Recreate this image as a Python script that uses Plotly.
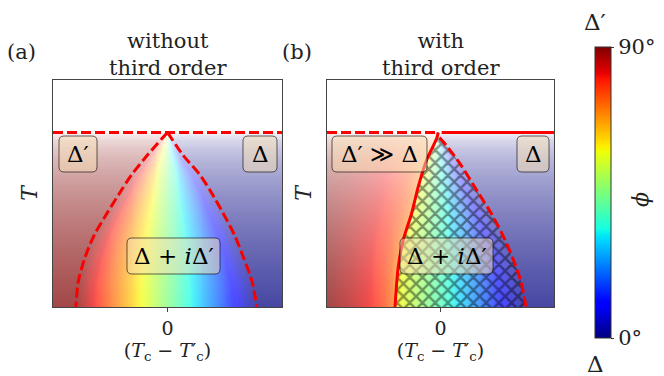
import numpy as np
import plotly.graph_objects as go

W, H = 664, 376
OFF = 8  # page body margin of the html page

# critical temperature (both panels)
T_c = 1.0

# (a) without third order: phase boundaries
a_left_x = [0.0, -0.175, -0.315, -0.412, -0.527, -0.640, -0.722, -0.78, -0.80]
a_left_T = [1.0, 0.870, 0.756, 0.659, 0.538, 0.412, 0.281, 0.143, 0.0]
a_right_x = [0.0, 0.135, 0.284, 0.38, 0.485, 0.585, 0.665, 0.74, 0.78]
a_right_T = [1.0, 0.870, 0.756, 0.659, 0.538, 0.412, 0.281, 0.143, 0.0]

# (b) with third order: phase boundaries
b_left_x = [-0.02, -0.033, -0.122, -0.196, -0.254, -0.328, -0.372, -0.401]
b_left_T = [1.0, 0.966, 0.842, 0.689, 0.537, 0.384, 0.231, 0.0]
b_right_x = [-0.01, 0.048, 0.18, 0.327, 0.445, 0.548, 0.636, 0.709, 0.753]
b_right_T = [0.97, 0.928, 0.813, 0.66, 0.538, 0.412, 0.281, 0.145, 0.0]

x_ticks = [0]
x_ticklabels = ['0']
phi_ticks = [0, 90]
phi_ticklabels = ['0°', '90°']

SERIF = 'DejaVu Serif, Liberation Serif, serif'


def jet(v):
    r = np.interp(v, [0, 0.35, 0.66, 0.89, 1], [0, 0, 1, 1, 0.5])
    g = np.interp(v, [0, 0.125, 0.375, 0.64, 0.91, 1], [0, 0, 1, 1, 0, 0])
    b = np.interp(v, [0, 0.11, 0.34, 0.65, 1], [0.5, 1, 1, 0, 0])
    return np.stack([r, g, b], axis=-1)


jet_stops = [0, 0.11, 0.125, 0.34, 0.35, 0.375, 0.5, 0.64, 0.65, 0.66, 0.89, 0.91, 1]
jet_scale = [[s, 'rgb(%d,%d,%d)' % tuple((jet(np.array(s)) * 255).round())] for s in jet_stops]

# grid for the background phase map
nx, ny = 240, 260
xs = np.linspace(-1, 1, nx)
Ts = np.linspace(0, 1.3, ny)
X, TT = np.meshgrid(xs, Ts)
alpha = 0.72 * np.sqrt(np.clip(1 - TT / T_c, 0, 1))


def to_rgb(f):
    c = jet(np.clip(f, 0, 1))
    a = alpha[..., None]
    return (255 * (1 - a) + 255 * a * c).round().astype(np.uint8)


# panel a: fan from the tip
xl = np.interp(TT, a_left_T[::-1], a_left_x[::-1])
xr = np.interp(TT, a_right_T[::-1], a_right_x[::-1])
fa = np.where(X < 0,
              0.5 + 0.5 * np.clip(X / np.minimum(xl, -1e-3), 0, 1),
              0.5 - 0.5 * np.clip(X / np.maximum(xr, 1e-3), 0, 1))
img_a = to_rgb(fa)

# panel b
xl = np.interp(TT, b_left_T[::-1], b_left_x[::-1])
xr = np.interp(TT, b_right_T[::-1], b_right_x[::-1])
s = (X - xl) / np.maximum(xr - xl, 1e-3)
fb = np.where(X < xl, 0.7 + 0.3 * np.clip((xl - X) / (xl + 1), 0, 1) ** 0.4,
              np.where(X > xr, 0.0, 0.66 * (1 - s)))
img_b = to_rgb(fb)

fig = go.Figure()
dx = xs[1] - xs[0]
dy = Ts[1] - Ts[0]
fig.add_trace(go.Image(z=img_a, x0=xs[0], dx=dx, y0=Ts[0], dy=dy,
                       hoverinfo='skip', xaxis='x', yaxis='y'))
fig.add_trace(go.Image(z=img_b, x0=xs[0], dx=dx, y0=Ts[0], dy=dy,
                       hoverinfo='skip', xaxis='x2', yaxis='y2'))

red = 'rgb(250,0,0)'
dash = '10px,4px'

# hatched region (b)
fig.add_trace(go.Scatter(
    x=b_left_x[::-1] + b_right_x, y=b_left_T[::-1] + b_right_T,
    xaxis='x2', yaxis='y2', mode='lines', line=dict(width=0, shape='spline', smoothing=0.6),
    fill='toself', fillcolor='rgba(0,0,0,0)',
    fillpattern=dict(shape='x', size=9, solidity=0.45,
                     fgcolor='rgba(0,0,0,0.85)', fillmode='overlay'),
    hoverinfo='skip', showlegend=False))

sp = dict(shape='spline', smoothing=0.8)

# panel a lines
fig.add_trace(go.Scatter(x=[-1, 1], y=[T_c, T_c], mode='lines',
                         line=dict(color=red, width=3, dash=dash), showlegend=False))
fig.add_trace(go.Scatter(x=a_left_x, y=a_left_T, mode='lines',
                         line=dict(color=red, width=3, dash=dash, **sp), showlegend=False))
fig.add_trace(go.Scatter(x=a_right_x, y=a_right_T, mode='lines',
                         line=dict(color=red, width=3, dash=dash, **sp), showlegend=False))

# panel b lines
fig.add_trace(go.Scatter(x=[-1, -0.04], y=[T_c, T_c], mode='lines', xaxis='x2', yaxis='y2',
                         line=dict(color=red, width=3, dash=dash), showlegend=False))
fig.add_trace(go.Scatter(x=[0.01, 1], y=[T_c, T_c], mode='lines', xaxis='x2', yaxis='y2',
                         line=dict(color=red, width=3), showlegend=False))
fig.add_trace(go.Scatter(x=b_left_x, y=b_left_T, mode='lines', xaxis='x2', yaxis='y2',
                         line=dict(color=red, width=3, **sp), showlegend=False))
fig.add_trace(go.Scatter(x=b_right_x, y=b_right_T, mode='lines', xaxis='x2', yaxis='y2',
                         line=dict(color=red, width=3, dash=dash, **sp), showlegend=False))


def PX(px):
    return (px - OFF) / W


def PY(py):
    return 1 - (py - OFF) / H


# colorbar carrier
fig.add_trace(go.Scatter(
    x=[None, None], y=[None, None], mode='markers', xaxis='x2', yaxis='y2',
    marker=dict(color=phi_ticks, cmin=0, cmax=90, colorscale=jet_scale, showscale=True,
                colorbar=dict(x=PX(585), xanchor='left', y=PY(192.5), yanchor='middle',
                              len=311 / H, lenmode='fraction', thickness=16,
                              outlinewidth=1, outlinecolor='#333',
                              tickvals=phi_ticks, ticktext=phi_ticklabels,
                              ticks='outside', ticklen=3, tickcolor='#333',
                              tickfont=dict(family=SERIF, size=21, color='#222'))),
    showlegend=False, hoverinfo='skip'))

axcommon = dict(range=[-1, 1], showgrid=False, zeroline=False, showline=True, mirror=True,
                linecolor='#444', linewidth=1.3, tickvals=x_ticks, ticktext=x_ticklabels,
                ticks='outside', ticklen=4, tickcolor='#444', automargin=False,
                tickfont=dict(family=SERIF, size=19, color='#222'),
                title=dict(text='(<i>T</i><sub>c</sub> − <i>T</i>′<sub>c</sub>)',
                           font=dict(family=SERIF, size=19, color='#222'), standoff=4))
aycommon = dict(range=[0, 1.3], showgrid=False, zeroline=False, showline=True, mirror=True,
                linecolor='#444', linewidth=1.3, showticklabels=False, ticks='',
                scaleanchor=False, autorange=False, automargin=False,
                title=dict(text='<i>T</i>', font=dict(family=SERIF, size=22, color='#222'),
                           standoff=8))

ydom = [PY(307), PY(80)]
fig.update_layout(
    width=W, height=H, margin=dict(l=0, r=0, t=0, b=0, autoexpand=False),
    paper_bgcolor='white', plot_bgcolor='white',
    font=dict(family=SERIF, color='#222'), showlegend=False,
    xaxis=dict(axcommon, domain=[PX(53), PX(282)], anchor='y'),
    yaxis=dict(aycommon, domain=ydom, anchor='x'),
    xaxis2=dict(axcommon, domain=[PX(327), PX(554)], anchor='y2'),
    yaxis2=dict(aycommon, domain=ydom, anchor='x2'),
)


def rbox(x0, y0, x1, y1, r=5):
    def P(px, py):
        return '%.5f,%.5f' % (PX(px), PY(py))
    return ('M ' + P(x0 + r, y0) + ' L ' + P(x1 - r, y0) + ' Q ' + P(x1, y0) + ' ' + P(x1, y0 + r) +
            ' L ' + P(x1, y1 - r) + ' Q ' + P(x1, y1) + ' ' + P(x1 - r, y1) +
            ' L ' + P(x0 + r, y1) + ' Q ' + P(x0, y1) + ' ' + P(x0, y1 - r) +
            ' L ' + P(x0, y0 + r) + ' Q ' + P(x0, y0) + ' ' + P(x0 + r, y0) + ' Z')


boxes = [
    (59, 136, 97, 172, 'Δ′'),
    (243, 136, 277, 172, 'Δ'),
    (127, 238, 220, 274, 'Δ + <i>i</i>Δ′'),
    (332, 136, 427, 172, 'Δ′ ≫ Δ'),
    (517, 136, 549, 172, 'Δ'),
    (400, 238, 493, 274, 'Δ + <i>i</i>Δ′'),
]
for x0, y0, x1, y1, txt in boxes:
    fig.add_shape(type='path', path=rbox(x0, y0, x1, y1), xref='paper', yref='paper',
                  fillcolor='rgba(245,222,179,0.5)', line=dict(color='rgba(0,0,0,0.6)', width=1),
                  layer='above')
    fig.add_annotation(x=PX((x0 + x1) / 2), y=PY((y0 + y1) / 2), xref='paper', yref='paper',
                       xanchor='center', yanchor='middle',
                       text=txt, showarrow=False, font=dict(family=SERIF, size=23, color='black'))

texts = [
    (167.5, 54, 'without<br>third order', 21, 0),
    (440.5, 54, 'with<br>third order', 21, 0),
    (22, 52, '(a)', 21, 0),
    (297, 52, '(b)', 21, 0),
    (595, 22, 'Δ′', 23, 0),
    (595, 364, 'Δ', 23, 0),
    (641, 200, '<i>ϕ</i>', 22, -90),
]
for px, py, txt, sz, ang in texts:
    fig.add_annotation(x=PX(px), y=PY(py), xref='paper', yref='paper', text=txt,
                       xanchor='center', yanchor='middle',
                       showarrow=False, textangle=ang, font=dict(family=SERIF, size=sz, color='#222'))

fig.write_html('out.html')
